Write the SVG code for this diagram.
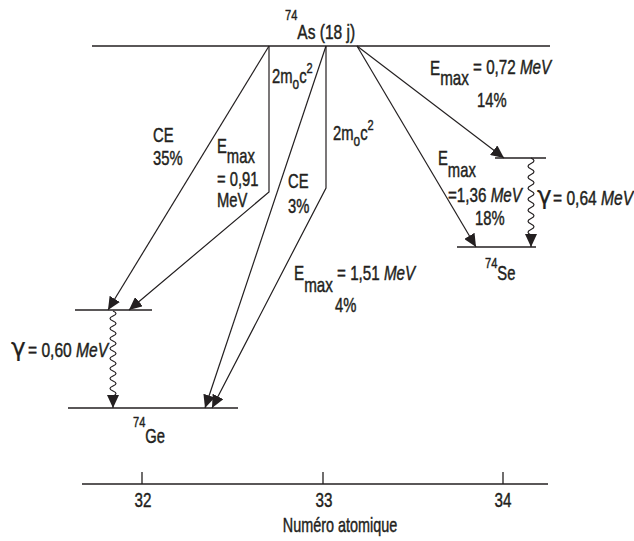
<svg xmlns="http://www.w3.org/2000/svg" width="634" height="541" viewBox="0 0 634 541">
<style>
.t{font-family:"Liberation Sans",Arial,sans-serif;font-size:20px;fill:#231f20;stroke:#231f20;stroke-width:0.45px}
.s{font-size:15px}
.b{font-size:21px}
.i{font-style:italic}
.g{font-family:"DejaVu Sans","Liberation Sans",sans-serif;font-size:25px;stroke-width:0.2px}
.ln{stroke:#231f20;stroke-width:1.2;fill:none}
.lv{stroke:#231f20;stroke-width:1.3;fill:none}
</style>
<defs>
<marker id="arr" markerUnits="userSpaceOnUse" markerWidth="13" markerHeight="12" viewBox="0 0 13 12" refX="13" refY="6" orient="auto">
<path d="M0,0 L13,6 L0,12 z" fill="#231f20"/>
</marker>
</defs>
<rect width="634" height="541" fill="#fff"/>

<g id="as74">
<line class="lv" x1="92" y1="46" x2="550" y2="46"/>
<text class="t b" transform="translate(285 39) scale(0.74 1)"><tspan class="s" dy="-19">74</tspan><tspan dy="19">As (18 j)</tspan></text>
</g>

<g id="ge74-excited">
<line class="lv" x1="75" y1="310" x2="152" y2="310"/>
</g>

<g id="ge74">
<line class="lv" x1="68" y1="408" x2="238" y2="408"/>
<text class="t" transform="translate(133 443) scale(0.74 1)"><tspan class="s" dy="-16">74</tspan><tspan dy="16">Ge</tspan></text>
</g>

<g id="se74-excited">
<line class="lv" x1="495" y1="158" x2="546" y2="158"/>
</g>

<g id="se74">
<line class="lv" x1="457" y1="247" x2="536" y2="247"/>
<text class="t" transform="translate(485 280) scale(0.74 1)"><tspan class="s" dy="-12">74</tspan><tspan dy="12">Se</tspan></text>
</g>

<g id="axis">
<line class="lv" x1="82" y1="484" x2="548" y2="484"/>
<line class="lv" x1="142" y1="472" x2="142" y2="484"/>
<line class="lv" x1="323" y1="472" x2="323" y2="484"/>
<line class="lv" x1="503" y1="472" x2="503" y2="484"/>
<text class="t" text-anchor="middle" transform="translate(143 507) scale(0.76 1)">32</text>
<text class="t" text-anchor="middle" transform="translate(324 507) scale(0.76 1)">33</text>
<text class="t" text-anchor="middle" transform="translate(503 507) scale(0.76 1)">34</text>
<text class="t" text-anchor="middle" transform="translate(340 532) scale(0.72 1)">Numéro atomique</text>
</g>

<g id="connectors">
<g id="ce35">
<line class="ln" x1="269" y1="46" x2="108" y2="310" marker-end="url(#arr)"/>
<text class="t" transform="translate(153 142) scale(0.74 1)">CE</text>
<text class="t" transform="translate(153 165) scale(0.74 1)">35%</text>
</g>
<g id="beta091">
<polyline class="ln" points="269,46 269,192 129,310" marker-end="url(#arr)"/>
<text class="t" transform="translate(217 153) scale(0.74 1)">E<tspan dy="10">max</tspan></text>
<text class="t" transform="translate(217 186) scale(0.74 1)">= 0,91</text>
<text class="t" transform="translate(217 207) scale(0.74 1)">MeV</text>
<text class="t" transform="translate(272 83) scale(0.74 1)">2m<tspan style="font-size:16px" dy="6">o</tspan><tspan dy="-6">c</tspan><tspan class="s" dy="-10">2</tspan></text>
</g>
<g id="ce3">
<line class="ln" x1="326" y1="46" x2="205" y2="408" marker-end="url(#arr)"/>
<text class="t" transform="translate(288 188) scale(0.74 1)">CE</text>
<text class="t" transform="translate(288 213) scale(0.74 1)">3%</text>
</g>
<g id="beta151">
<polyline class="ln" points="326,46 326,188 212,408" marker-end="url(#arr)"/>
<text class="t" transform="translate(333 140) scale(0.74 1)">2m<tspan style="font-size:16px" dy="6">o</tspan><tspan dy="-6">c</tspan><tspan class="s" dy="-10">2</tspan></text>
<text class="t" transform="translate(294 280) scale(0.76 1)">E<tspan dy="12">max</tspan><tspan dy="-12"> = 1,51 </tspan><tspan class="i">MeV</tspan></text>
<text class="t" transform="translate(335 312) scale(0.74 1)">4%</text>
</g>
<g id="beta072">
<line class="ln" x1="357" y1="46" x2="504" y2="158" marker-end="url(#arr)"/>
<text class="t" transform="translate(430 75) scale(0.76 1)">E<tspan dy="10">max</tspan><tspan dy="-11"> = 0,72 </tspan><tspan class="i">MeV</tspan></text>
<text class="t" transform="translate(477 107) scale(0.74 1)">14%</text>
</g>
<g id="beta136">
<line class="ln" x1="357" y1="46" x2="476" y2="247" marker-end="url(#arr)"/>
<text class="t" transform="translate(438 165) scale(0.74 1)">E<tspan dy="12">max</tspan></text>
<text class="t" transform="translate(448 202) scale(0.76 1)">=1,36 <tspan class="i">MeV</tspan></text>
<text class="t" transform="translate(475 225) scale(0.74 1)">18%</text>
</g>
<g id="gamma060">
<path class="ln" d="M113,311 q6,2.5 0,5 t0,5 t0,5 t0,5 t0,5 t0,5 t0,5 t0,5 t0,5 t0,5 t0,5 t0,5 t0,5 t0,5 t0,5 t0,5 t0,5 L113,408" marker-end="url(#arr)"/>
<text class="t g" x="11" y="356">γ</text>
<text class="t" transform="translate(28 357) scale(0.78 1)">= 0,60 <tspan class="i">MeV</tspan></text>
</g>
<g id="gamma064">
<path class="ln" d="M531,158 q6,2.75 0,5.5 t0,5.5 t0,5.5 t0,5.5 t0,5.5 t0,5.5 t0,5.5 t0,5.5 t0,5.5 t0,5.5 t0,5.5 t0,5.5 t0,5.5 t0,5.5 L531,247" marker-end="url(#arr)"/>
<text class="t g" x="537" y="204">γ</text>
<text class="t" transform="translate(553 205) scale(0.78 1)">= 0,64 <tspan class="i">MeV</tspan></text>
</g>
</g>
</svg>
